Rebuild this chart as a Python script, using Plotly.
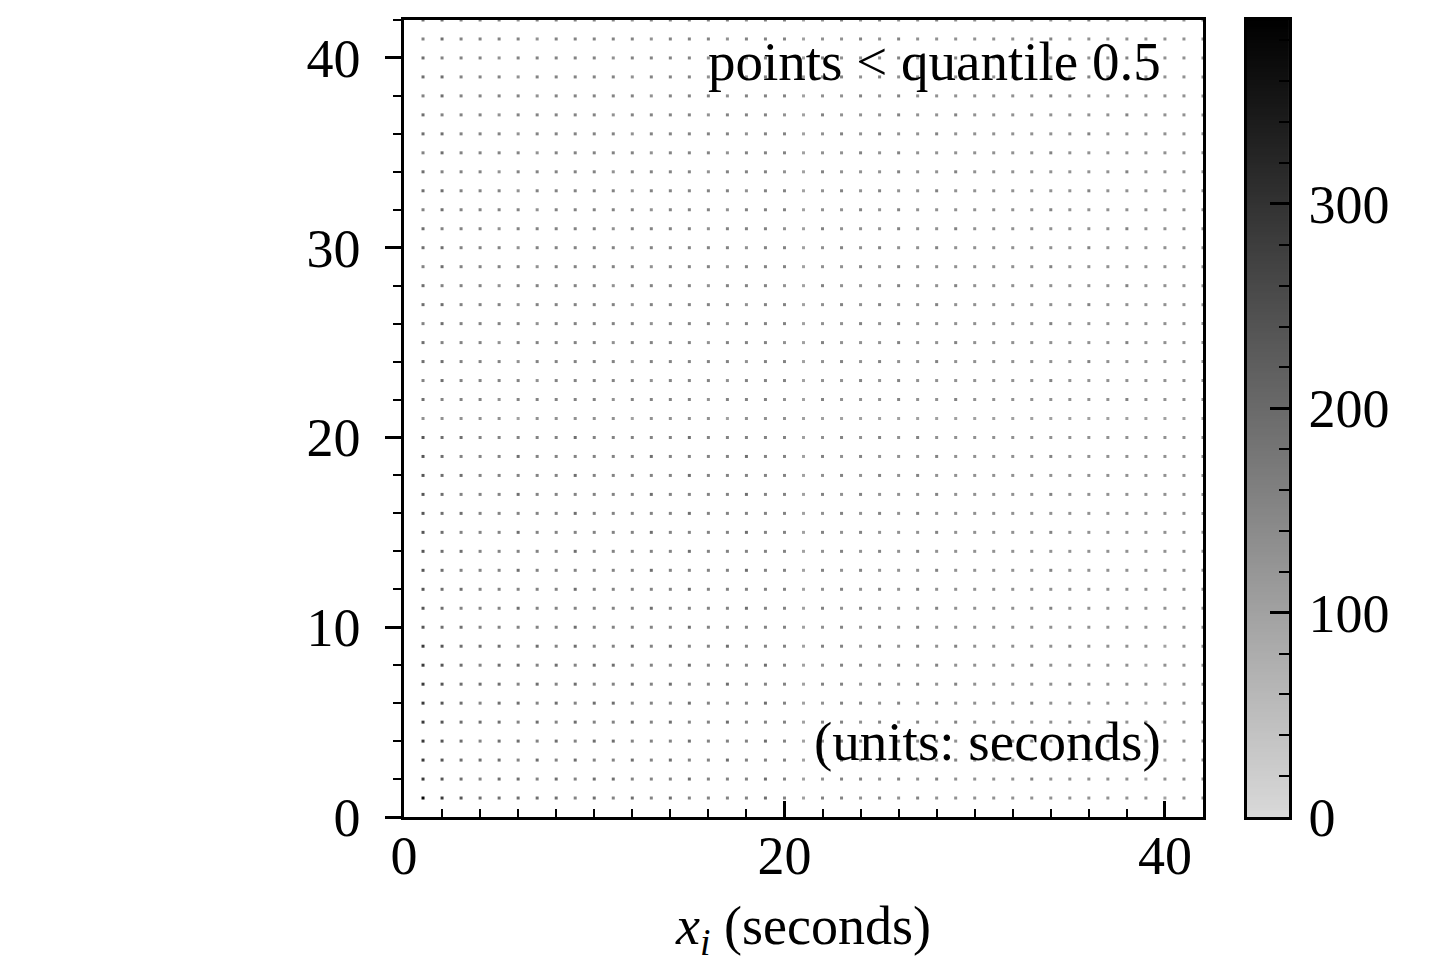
import numpy as np
import plotly.graph_objects as go

# grid of sample points (seconds)
x_values = list(range(1, 43))
y_values = list(range(1, 43))

# shade code per point; rows from y=42 (top) down to y=1
shade_rows = [
    "5544434444" "4344444344" "2" "343433433" "3333343333" "33",  # 42
    "4544443444" "4434443444" "2" "334343333" "3334333333" "33",  # 41
    "5444344444" "3444434443" "2" "433343343" "3333333433" "33",  # 40
    "5544434444" "4344434344" "2" "343433433" "3333343333" "33",  # 39
    "4544443444" "4434443444" "2" "334343333" "3334333333" "33",  # 38
    "5444344444" "3444434443" "2" "433343343" "3333333433" "33",  # 37
    "5544434444" "4344444344" "2" "343433433" "3333343333" "33",  # 36
    "4544443444" "4434443444" "2" "334343333" "3334333333" "33",  # 35
    "5444344444" "3444434443" "2" "433343343" "3333333433" "33",  # 34
    "5544434444" "4344444344" "2" "343433433" "3333343333" "33",  # 33
    "4544443444" "4434443444" "2" "334343333" "3334333333" "33",  # 32
    "5444344444" "3444434443" "2" "433343343" "3333333433" "33",  # 31
    "5544434444" "4344444344" "2" "343433433" "3333343333" "33",  # 30
    "4544443444" "4434443444" "2" "334343333" "3334333333" "33",  # 29
    "5444344444" "3444434443" "2" "433343343" "3333333433" "33",  # 28
    "5544434444" "4344444344" "2" "343433433" "3333343333" "33",  # 27
    "4544443444" "4434443444" "2" "334343333" "3334333333" "33",  # 26
    "5444344444" "3444434443" "2" "433343343" "3333333433" "33",  # 25
    "5544434444" "4344444344" "2" "343433433" "3333343333" "33",  # 24
    "4544443444" "4434443444" "2" "334343333" "3334333333" "33",  # 23
    "5444344444" "3444434443" "2" "433343343" "3333333433" "33",  # 22
    "3333323333" "3233332333" "2" "222222222" "2222222222" "22",  # 21
    "6554444454" "4444544444" "2" "343434333" "3333333333" "33",  # 20
    "6544454444" "4454444544" "2" "434333433" "3334333333" "33",  # 19
    "6554444454" "4444544444" "2" "343434333" "3333333333" "33",  # 18
    "6544454444" "4454444544" "2" "434333433" "3334333333" "33",  # 17
    "6554444454" "4444544444" "2" "343434333" "3333333333" "33",  # 16
    "6544454444" "4454444544" "2" "434333433" "3334333333" "33",  # 15
    "6554444454" "4444544444" "2" "343434333" "3333333333" "33",  # 14
    "6544454444" "4454444544" "2" "434333433" "3334333333" "33",  # 13
    "6554444454" "4444544444" "2" "343434333" "3333333333" "33",  # 12
    "6544454444" "4454444544" "2" "434333433" "3334333333" "33",  # 11
    "6554444454" "4444544444" "2" "343434333" "3333333333" "33",  # 10
    "7655545454" "4545445444" "2" "443434343" "3333433332" "33",  # 9
    "7654554545" "5444544454" "2" "344343433" "3343333323" "33",  # 8
    "7655545454" "4545445444" "2" "443434343" "3333433332" "33",  # 7
    "7654554545" "5444544454" "2" "344343433" "3343333323" "33",  # 6
    "7655545454" "4545445444" "2" "443434343" "3333433332" "33",  # 5
    "7654554545" "5444544454" "2" "344343433" "3343333323" "33",  # 4
    "7655545454" "4545445444" "2" "443434343" "3333433332" "33",  # 3
    "7654554545" "5444544454" "2" "344343433" "3343333323" "33",  # 2
    "9765555545" "4545444454" "2" "443434333" "3333333332" "33",  # 1
]
shade_value = {"1": 70, "2": 100, "3": 130, "4": 155, "5": 190, "6": 235, "7": 285, "9": 380}

cmin, cmax = 0, 390
cbar_tickvals = [0, 100, 200, 300]
x_tickvals = [0, 20, 40]
y_tickvals = [0, 10, 20, 30, 40]

FONT = "Liberation Serif"
greys = [[0.0, "rgb(217,217,217)"], [1.0, "rgb(0,0,0)"]]

px, py, pc = [], [], []
for i, row in enumerate(shade_rows):
    yv = y_values[len(y_values) - 1 - i]
    for j, ch in enumerate(row):
        px.append(x_values[j])
        py.append(yv)
        pc.append(shade_value[ch])

fig = go.Figure()
fig.add_trace(go.Scatter(
    x=px, y=py, mode="markers",
    marker=dict(symbol="square", size=3, color=pc, cmin=cmin, cmax=cmax,
                colorscale=greys, line=dict(width=0)),
    showlegend=False, hoverinfo="skip",
))

# colour bar drawn as a thin heatmap on its own axes
ramp = np.linspace(cmin, cmax, 300)
fig.add_trace(go.Heatmap(
    x=[0], y=ramp, z=[[v] for v in ramp], colorscale=greys,
    zmin=cmin, zmax=cmax, showscale=False, xaxis="x2", yaxis="y2",
    hoverinfo="skip",
))

ax_common = dict(showgrid=False, zeroline=False, showline=True, linecolor="black",
                 linewidth=2.5, mirror=True, tickcolor="black", tickwidth=2.5,
                 automargin=False,
                 tickfont=dict(family=FONT, size=54, color="black"))

fig.update_layout(
    width=1427, height=971,
    margin=dict(l=396, r=146, t=9, b=162),
    plot_bgcolor="white", paper_bgcolor="white",
    xaxis=dict(domain=[0, 0.9028], range=[0, 42], tickvals=x_tickvals,
               ticks="inside", ticklen=16, ticklabelstandoff=-11,
               minor=dict(dtick=2, ticks="inside", ticklen=8, tickcolor="black", tickwidth=2),
               **ax_common),
    yaxis=dict(range=[0, 42], tickvals=y_tickvals, ticks="outside", ticklen=16,
               ticklabelstandoff=14,
               minor=dict(dtick=2, ticks="outside", ticklen=8, tickcolor="black", tickwidth=2),
               **ax_common),
    xaxis2=dict(domain=[0.9525, 1.0], anchor="y2", showticklabels=False,
                ticks="", showgrid=False, zeroline=False, showline=True,
                linecolor="black", linewidth=2.5, mirror=True, fixedrange=True),
    yaxis2=dict(anchor="x2", side="right", range=[cmin, cmax], tickvals=cbar_tickvals,
                ticks="inside", ticklen=19, ticklabelstandoff=6,
                minor=dict(dtick=20, ticks="inside", ticklen=10, tickcolor="black", tickwidth=2),
                **ax_common),
)

fig.add_annotation(x=39.9, y=39.8, xref="x", yref="y", text="points &lt; quantile 0.5",
                   showarrow=False, xanchor="right", yanchor="middle",
                   font=dict(family=FONT, size=55, color="black"))
fig.add_annotation(x=39.9, y=3.96, xref="x", yref="y", text="(units: seconds)",
                   showarrow=False, xanchor="right", yanchor="middle",
                   font=dict(family=FONT, size=55, color="black"))
fig.add_annotation(x=21, y=-0.141, xref="x", yref="paper",
                   text="<i>x</i><sub><i>i</i></sub> (seconds)",
                   showarrow=False, xanchor="center", yanchor="middle",
                   font=dict(family=FONT, size=54, color="black"))

fig.write_html("out.html")
